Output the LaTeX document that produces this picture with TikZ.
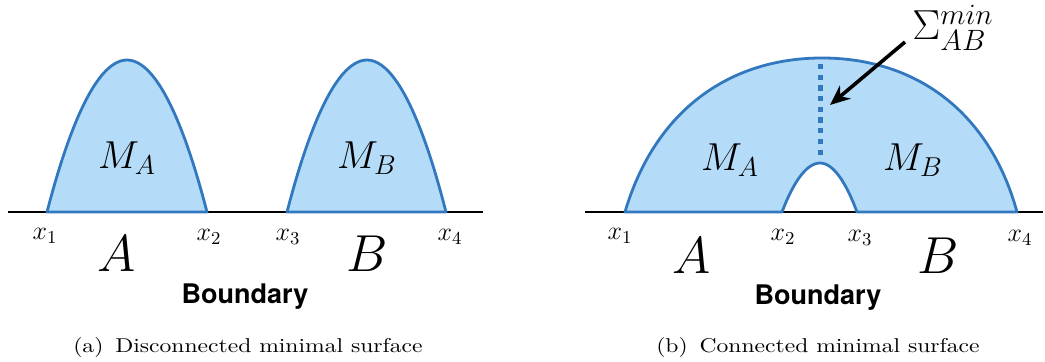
\RequirePackage{fix-cm}
\documentclass[tikz,border=0pt]{standalone}
\usepackage{amsmath}
\usepackage{fontspec}
\newfontfamily\heros{TeX Gyre Heros}
\usetikzlibrary{arrows.meta}
\definecolor{surf}{RGB}{180,220,248}
\definecolor{rim}{RGB}{50,120,190}

\begin{document}
\begin{tikzpicture}[x=0.5pt,y=-0.5pt,
  region/.style={fill=surf,draw=rim,line width=1.4pt,line join=round},
  bdry/.style={draw=black,line width=0.6pt},
  mlabel/.style={font=\fontsize{19.5}{19.5}\selectfont},
  xlabel/.style={font=\fontsize{13}{13}\selectfont},
  sublabel/.style={font=\fontsize{26}{26}\selectfont},
  bword/.style={font=\heros\bfseries\fontsize{13.5}{14}\selectfont},
  capt/.style={font=\fontsize{10}{12}\selectfont,xscale=1.18}]
\useasboundingbox (0,0) rectangle (1045,362);

% (a) two separate pieces
\draw[bdry] (8,212) -- (483,212);
\draw[region] (47,212) parabola bend (127,60) (207,212) -- cycle;
\draw[region] (287,212) parabola bend (367,60) (446,212) -- cycle;
\node[mlabel] (ma) at (127,158) {$M_A$};
\node[mlabel] (mb) at (367,158) {$M_B$};
\node[xlabel] (x1) at (45,236) {$x_1$};
\node[xlabel] (x2) at (209,237) {$x_2$};
\node[xlabel] (x3) at (288,237) {$x_3$};
\node[xlabel] (x4) at (450,237) {$x_4$};
\node[sublabel] (a) at (117,254) {$A$};
\node[sublabel] (b) at (367,254) {$B$};
\node[bword] (bd) at (245,297) {Boundary};
\node[capt] (ca) at (248,348) {(a)\hspace{0.5em}Disconnected minimal surface};

% (b) one connected piece
\draw[bdry] (585,212) -- (1043,212);
\draw[region] (625,212) .. controls (655,110) and (730,58) .. (822,58)
  .. controls (914,58) and (989,110) .. (1017,212) -- (857,212)
  parabola bend (820,163) (782,212) -- cycle;
\coordinate (top) at (820,64);
\coordinate (bot) at (820,160);
\draw[rim,line width=2.5pt,dash pattern=on 2.6pt off 2.75pt] (top) -- (bot);
\node[mlabel] (ma2) at (730,160) {$M_A$};
\node[mlabel] (mb2) at (913,160) {$M_B$};
\node[xlabel] (y1) at (620,236) {$x_1$};
\node[xlabel] (y2) at (783,237) {$x_2$};
\node[xlabel] (y3) at (860,238) {$x_3$};
\node[xlabel] (y4) at (1020,238) {$x_4$};
\node[sublabel] (a2) at (692,256) {$A$};
\node[sublabel] (b2) at (938,256) {$B$};
\node[bword] (bd2) at (818,298) {Boundary};
\node[font=\fontsize{21}{21}\selectfont] (sig) at (953,28) {$\Sigma_{AB}^{min}$};
\coordinate (tail) at (905,42);
\coordinate (tip) at (830,105);
\draw[line width=1.8pt,-{Stealth[length=10pt,width=8.5pt]}] (tail) -- (tip);
\node[capt] (cb) at (818,348) {(b)\hspace{0.5em}Connected minimal surface};
\end{tikzpicture}
\end{document}
